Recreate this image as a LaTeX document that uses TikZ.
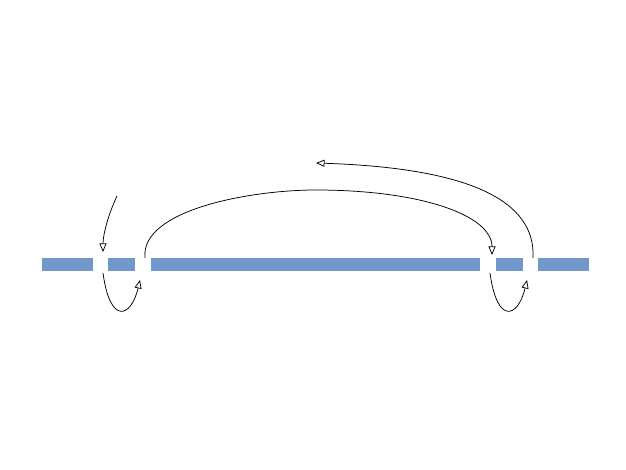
\documentclass[tikz,border=0pt]{standalone}
\usetikzlibrary{arrows.meta}
\definecolor{barblue}{RGB}{112,152,202}
\begin{document}
\begin{tikzpicture}[x=1pt,y=-1pt,
  bar/.style={fill=barblue,draw=none,inner sep=0pt,minimum height=13pt,anchor=west},
  jump/.style={draw=black,line width=0.75pt,-{Triangle[open,length=8.5pt,width=7pt]}}]
\useasboundingbox (0,0) rectangle (626,470);
% bar segments
\node[bar,minimum width=51pt] (s1) at (42,264.5) {};
\node[bar,minimum width=27pt] (s2) at (108,264.5) {};
\node[bar,minimum width=329pt] (s3) at (151,264.5) {};
\node[bar,minimum width=27pt] (s4) at (496,264.5) {};
\node[bar,minimum width=51pt] (s5) at (538,264.5) {};
% connector ends
\coordinate (a0) at (117,196);
\coordinate (a1) at (103,252);
\coordinate (b0) at (103,273);
\coordinate (b1) at (140,280);
\coordinate (c0) at (145,258);
\coordinate (cm) at (316,190);
\coordinate (c1) at (492,255);
\coordinate (d0) at (490,273);
\coordinate (d1) at (527,280);
\coordinate (e0) at (533,258);
\coordinate (e1) at (316,163);
\draw[jump] (a0) .. controls (108,215) and (103,235) .. (a1);
\draw[jump] (b0) .. controls (110,325) and (131,318) .. (b1);
\draw[jump] (c0) .. controls (140,210) and (250,190) .. (cm) .. controls (420,190) and (492,215) .. (c1);
\draw[jump] (d0) .. controls (497,325) and (518,318) .. (d1);
\draw[jump] (e0) .. controls (536,200) and (468,168) .. (e1);
\end{tikzpicture}
\end{document}
